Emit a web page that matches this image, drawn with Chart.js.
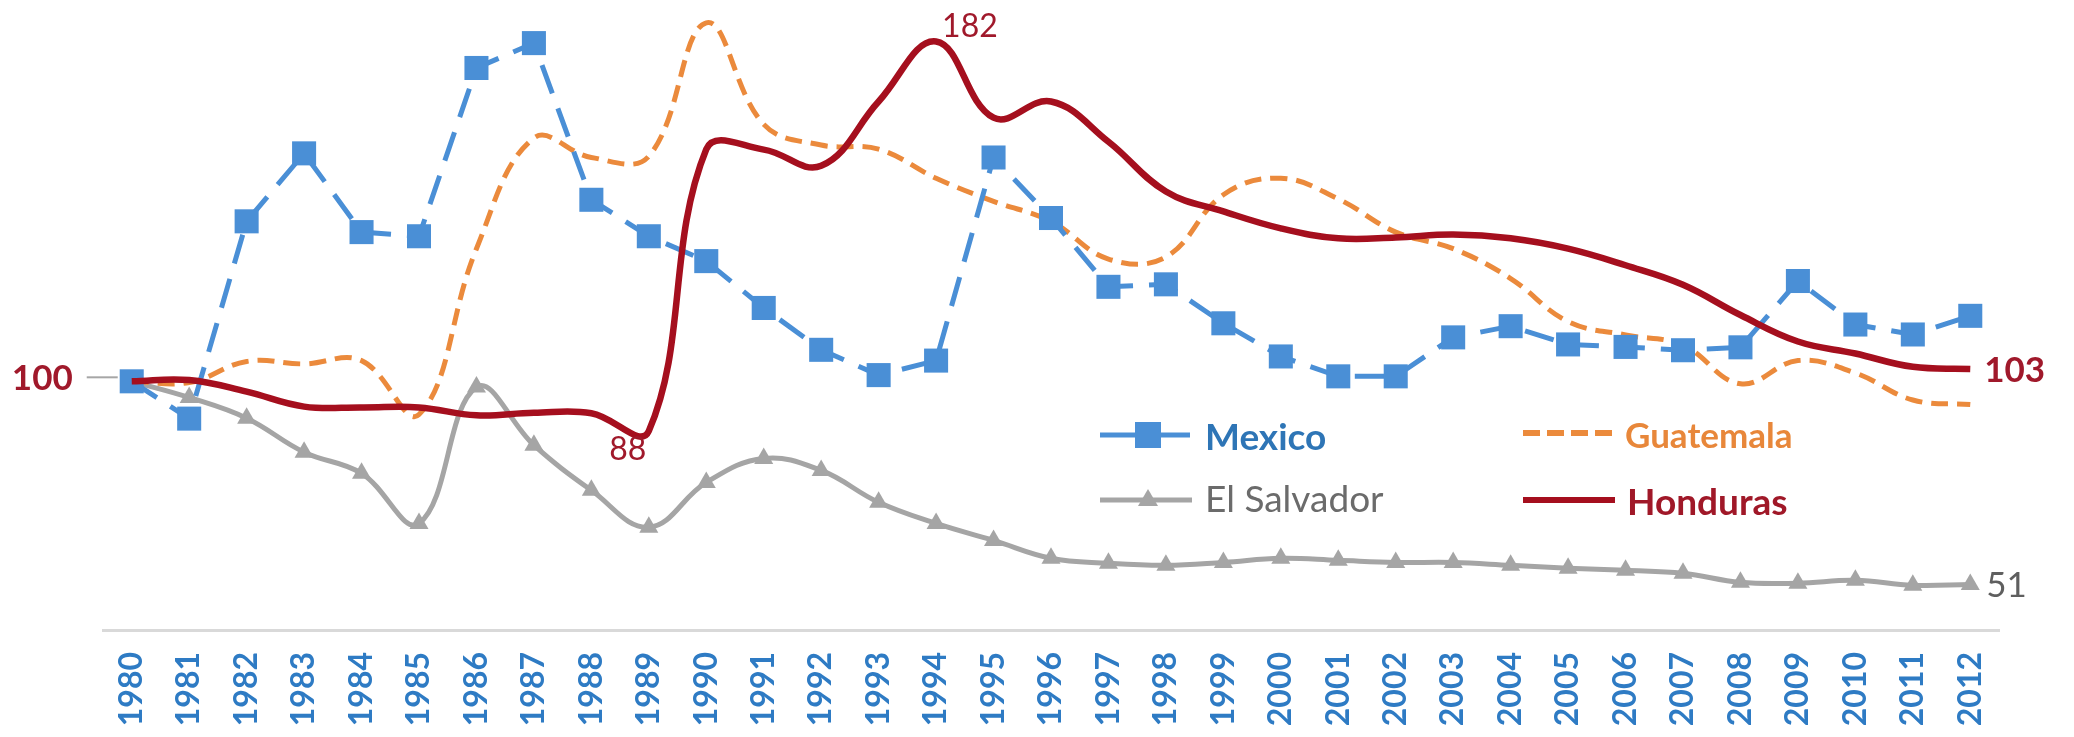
<!DOCTYPE html>
<html>
<head>
<meta charset="utf-8">
<script src="https://cdn.jsdelivr.net/npm/chart.js@4.4.1/dist/chart.umd.min.js"></script>
<style>
  html, body { margin: 0; padding: 0; background: #fff; }
  canvas { display: block; }
</style>
</head>
<body>
<canvas id="chart" width="2074" height="737"></canvas>
<script>
const years = ["1980","1981","1982","1983","1984","1985","1986","1987","1988","1989",
  "1990","1991","1992","1993","1994","1995","1996","1997","1998","1999",
  "2000","2001","2002","2003","2004","2005","2006","2007","2008","2009",
  "2010","2011","2012"];

const mexico = [100, 91, 138.6, 155, 136, 135, 175.6, 181.6, 143.8, 135,
  129, 117.7, 107.6, 101.5, 105, 154, 139.4, 122.8, 123.4, 114,
  106, 101.2, 101.2, 110.6, 113.3, 108.9, 108.3, 107.5, 108.2, 124.2,
  113.7, 111.3, 115.8];

const guatemala = [100, 99.7, 104.8, 104.2, 105, 92, 132, 158.7, 154, 154.3,
  186.5, 162, 157, 156, 149, 143.4, 138.6, 129.5, 130, 145,
  149, 144, 136, 132, 124.8, 114.4, 111.2, 108.7, 99.4, 105,
  102, 95.5, 94.4];

const elSalvador = [100, 96.1, 91.1, 82.9, 77.8, 65.7, 98.6, 84.6, 73.7, 64.8,
  75.6, 81.4, 78.5, 70.8, 65.7, 61.6, 57.3, 56.1, 55.6, 56.3,
  57.3, 56.8, 56.3, 56.3, 55.6, 54.9, 54.4, 53.7, 51.5, 51.3,
  52, 50.8, 51];

const honduras = [100, 100.3, 97.5, 93.9, 93.7, 93.7, 91.8, 92.4, 92.3, 88,
  156, 155.9, 152, 167.5, 182, 163.6, 167.5, 157.8, 145.8, 141,
  136.9, 134.5, 134.7, 135.4, 134.5, 132, 128, 123.3, 116, 109.6,
  106.7, 103.5, 103];

const BLUE = "#4A8FD6";
const ORANGE = "#EB8A3C";
const GREY = "#A5A5A5";
const RED = "#A50F1E";
const FONT = "Lato, 'Open Sans', sans-serif";

// point labels and the legend drawn on top of the plot
const annotate = {
  id: "annotate",
  afterDatasetsDraw(chart) {
    const ctx = chart.ctx;
    const x = chart.scales.x, y = chart.scales.y;
    const last = years.length - 1;
    ctx.save();

    // value labels
    ctx.textBaseline = "alphabetic";
    ctx.fillStyle = "#A0192B";
    ctx.font = "bold 35px " + FONT;
    ctx.textAlign = "right";
    ctx.fillText(String(honduras[0]), x.getPixelForValue(0) - 59, y.getPixelForValue(100) + 9);
    ctx.textAlign = "left";
    ctx.fillText(String(honduras[last]), x.getPixelForValue(last) + 14, y.getPixelForValue(honduras[last]) + 13);
    ctx.font = "32px " + FONT;
    ctx.fillText("182", x.getPixelForValue(14) + 6, y.getPixelForValue(182) - 4);
    ctx.textAlign = "center";
    ctx.fillText("88", x.getPixelForValue(9) - 21, y.getPixelForValue(88) + 29);
    ctx.textAlign = "left";
    ctx.fillStyle = "#5F5F5F";
    ctx.font = "35px " + FONT;
    ctx.fillText(String(elSalvador[last]), x.getPixelForValue(last) + 16, y.getPixelForValue(elSalvador[last]) + 13);

    // leader line for the 100 label
    ctx.strokeStyle = "#A6A6A6";
    ctx.lineWidth = 2;
    ctx.beginPath();
    ctx.moveTo(x.getPixelForValue(0) - 45, y.getPixelForValue(100) - 4);
    ctx.lineTo(x.getPixelForValue(0) - 14, y.getPixelForValue(100) - 4);
    ctx.stroke();

    // legend
    function sample(x0, x1, ly, color, width, dash) {
      ctx.strokeStyle = color;
      ctx.lineWidth = width;
      ctx.setLineDash(dash);
      ctx.beginPath();
      ctx.moveTo(x0, ly);
      ctx.lineTo(x1, ly);
      ctx.stroke();
      ctx.setLineDash([]);
    }
    ctx.textAlign = "left";

    sample(1100, 1190, 435, BLUE, 5, []);
    ctx.fillStyle = BLUE;
    ctx.fillRect(1135, 422, 26, 26);
    ctx.fillStyle = "#2E75B6";
    ctx.font = "bold 37px " + FONT;
    ctx.fillText("Mexico", 1205, 450);

    sample(1100, 1192, 500, GREY, 5, []);
    ctx.fillStyle = GREY;
    ctx.beginPath();
    ctx.moveTo(1148, 489);
    ctx.lineTo(1158, 506);
    ctx.lineTo(1138, 506);
    ctx.closePath();
    ctx.fill();
    ctx.fillStyle = "#6B6B6B";
    ctx.font = "37px " + FONT;
    ctx.fillText("El Salvador", 1205, 512);

    sample(1523, 1612, 433, ORANGE, 6, [17, 7]);
    ctx.fillStyle = "#E8873A";
    ctx.font = "bold 35px " + FONT;
    ctx.fillText("Guatemala", 1625, 448);

    sample(1523, 1615, 500, RED, 6, []);
    ctx.fillStyle = "#A01828";
    ctx.font = "bold 37px " + FONT;
    ctx.fillText("Honduras", 1627, 515);

    ctx.restore();
  }
};

new Chart(document.getElementById("chart"), {
  type: "line",
  data: {
    labels: years,
    datasets: [
      {
        label: "Honduras", data: honduras, order: 0,
        borderColor: RED, borderWidth: 6.5, tension: 0.4,
        pointRadius: 0
      },
      {
        label: "Mexico", data: mexico, order: 1,
        borderColor: BLUE, borderWidth: 5, borderDash: [30, 16], tension: 0,
        pointStyle: "rect", pointRadius: 17, pointBackgroundColor: BLUE, pointBorderWidth: 0
      },
      {
        label: "Guatemala", data: guatemala, order: 2,
        borderColor: ORANGE, borderWidth: 5, borderDash: [17, 9], tension: 0.4,
        pointRadius: 0
      },
      {
        label: "El Salvador", data: elSalvador, order: 3,
        borderColor: GREY, borderWidth: 5, tension: 0.4,
        pointStyle: "triangle", pointRadius: 11, pointBackgroundColor: GREY, pointBorderWidth: 0
      }
    ]
  },
  options: {
    responsive: false,
    devicePixelRatio: 1,
    animation: false,
    layout: { autoPadding: false, padding: { left: 103, right: 75, top: 0, bottom: 0 } },
    plugins: { legend: { display: false }, tooltip: { enabled: false } },
    scales: {
      x: {
        offset: true,
        grid: { display: false, drawTicks: false },
        border: { display: true, color: "#D9D9D9", width: 3 },
        ticks: {
          minRotation: 90, maxRotation: 90, padding: 22,
          color: "#2E7BC4",
          font: { family: FONT, size: 32, weight: "bold" }
        },
        afterFit(scale) { scale.height = 107; }
      },
      y: { display: false, min: 40, max: 192 }
    }
  },
  plugins: [annotate]
});
</script>
</body>
</html>
